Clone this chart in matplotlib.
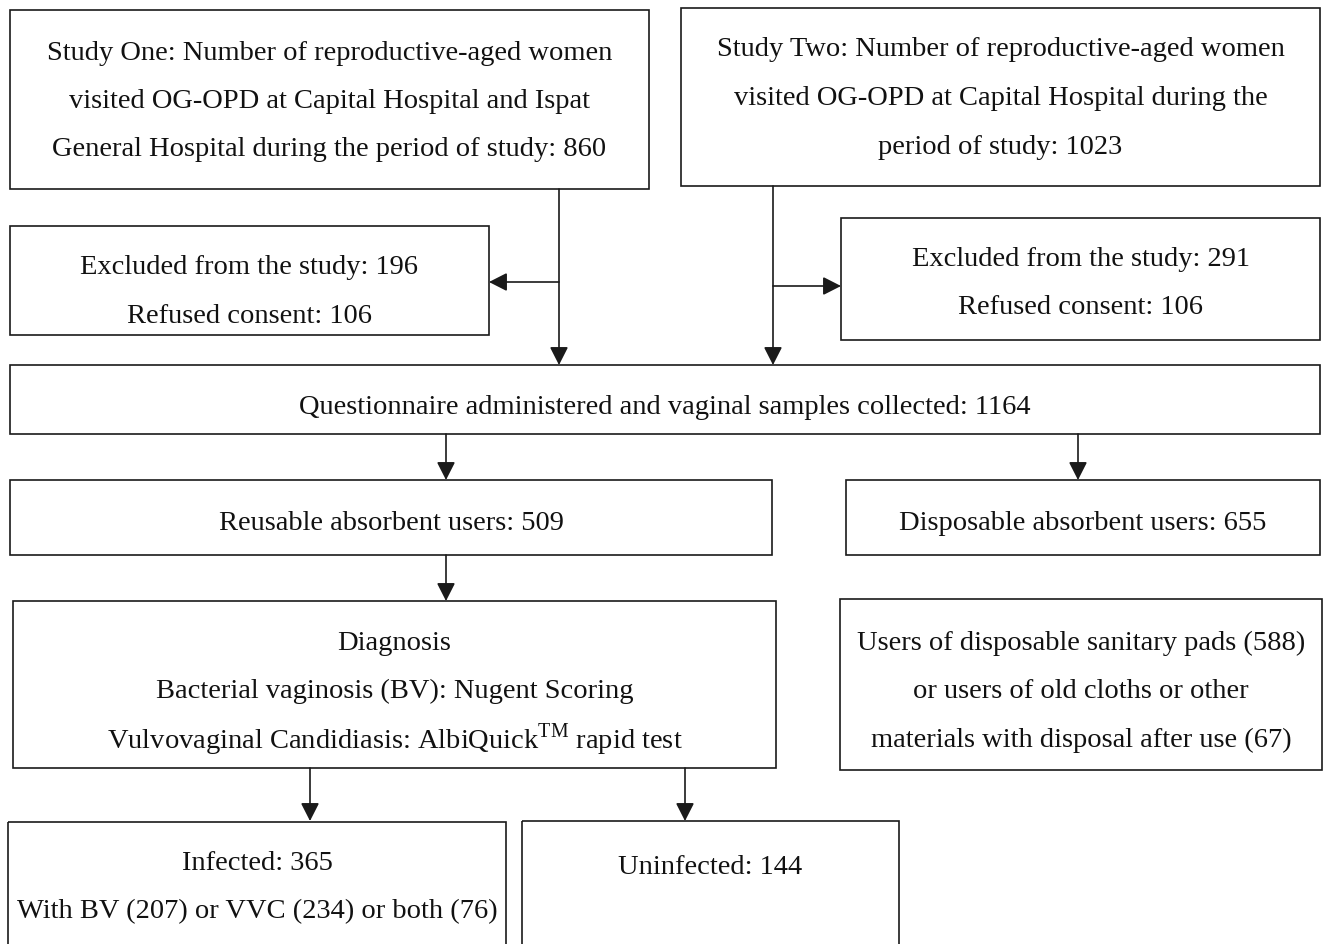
import matplotlib.pyplot as plt
import matplotlib.patches as patches

plt.rcParams['font.family'] = ['Liberation Serif', 'DejaVu Serif']
plt.rcParams['mathtext.fontset'] = 'custom'
plt.rcParams['mathtext.rm'] = 'Liberation Serif'

# box texts (one entry per box, one string per line)
study_one = ["Study One: Number of reproductive-aged women",
             "visited OG-OPD at Capital Hospital and Ispat",
             "General Hospital during the period of study: 860"]
study_two = ["Study Two: Number of reproductive-aged women",
             "visited OG-OPD at Capital Hospital during the",
             "period of study: 1023"]
excluded_one = ["Excluded from the study: 196", "Refused consent: 106"]
excluded_two = ["Excluded from the study: 291", "Refused consent: 106"]
collected = ["Questionnaire administered and vaginal samples collected: 1164"]
reusable = ["Reusable absorbent users: 509"]
disposable = ["Disposable absorbent users: 655"]
diagnosis = ["Diagnosis",
             "Bacterial vaginosis (BV): Nugent Scoring",
             r"Vulvovaginal Candidiasis: AlbiQuick$^{\mathrm{TM}}$ rapid test"]
disposal_detail = ["Users of disposable sanitary pads (588)",
                   "or users of old cloths or other",
                   "materials with disposal after use (67)"]
infected = ["Infected: 365", "With BV (207) or VVC (234) or both (76)"]
uninfected = ["Uninfected: 144"]

# layout in pixels: (x0, y0, x1, y1, first text line y)
boxes = [
    (study_one, (10, 10, 649, 189, 53)),
    (study_two, (681, 8, 1320, 186, 50)),
    (excluded_one, (10, 226, 489, 335, 268)),
    (excluded_two, (841, 218, 1320, 340, 259)),
    (collected, (10, 365, 1320, 434, 408)),
    (reusable, (10, 480, 772, 555, 523)),
    (disposable, (846, 480, 1320, 555, 523)),
    (diagnosis, (13, 601, 776, 768, 643)),
    (disposal_detail, (840, 599, 1322, 770, 643)),
    (infected, (8, 822, 506, 960, 863)),
    (uninfected, (522, 821, 899, 960, 867)),
]

line_gap = 48.5
edge = '#1a1a1a'

fig = plt.figure(figsize=(13.24, 9.44), dpi=100)
ax = fig.add_axes([0, 0, 1, 1])
ax.set_xlim(0, 1324)
ax.set_ylim(944, 0)
ax.axis('off')

for lines, (x0, y0, x1, y1, ty) in boxes:
    ax.add_patch(patches.Rectangle((x0, y0), x1 - x0, y1 - y0, fill=False,
                                   edgecolor=edge, linewidth=1.2))
    for i, line in enumerate(lines):
        ax.text((x0 + x1) / 2, ty + i * line_gap, line, fontsize=20.5,
                ha='center', va='center', color='#111111')


def arrow(x0, y0, x1, y1):
    ax.annotate("", xy=(x1, y1), xytext=(x0, y0),
                arrowprops=dict(arrowstyle='-|>,head_length=0.55,head_width=0.28',
                                color=edge, lw=1.2,
                                mutation_scale=20, shrinkA=0, shrinkB=0))


# study one -> questionnaire, branch to excluded (left)
arrow(559, 189, 559, 365)
arrow(559, 282, 489, 282)
# study two -> questionnaire, branch to excluded (right)
arrow(773, 186, 773, 365)
arrow(773, 286, 841, 286)
# questionnaire -> user groups
arrow(446, 434, 446, 480)
arrow(1078, 434, 1078, 480)
# reusable -> diagnosis
arrow(446, 555, 446, 601)
# diagnosis -> outcomes
arrow(310, 768, 310, 821)
arrow(685, 768, 685, 821)

fig.savefig('out.png', dpi=100)
